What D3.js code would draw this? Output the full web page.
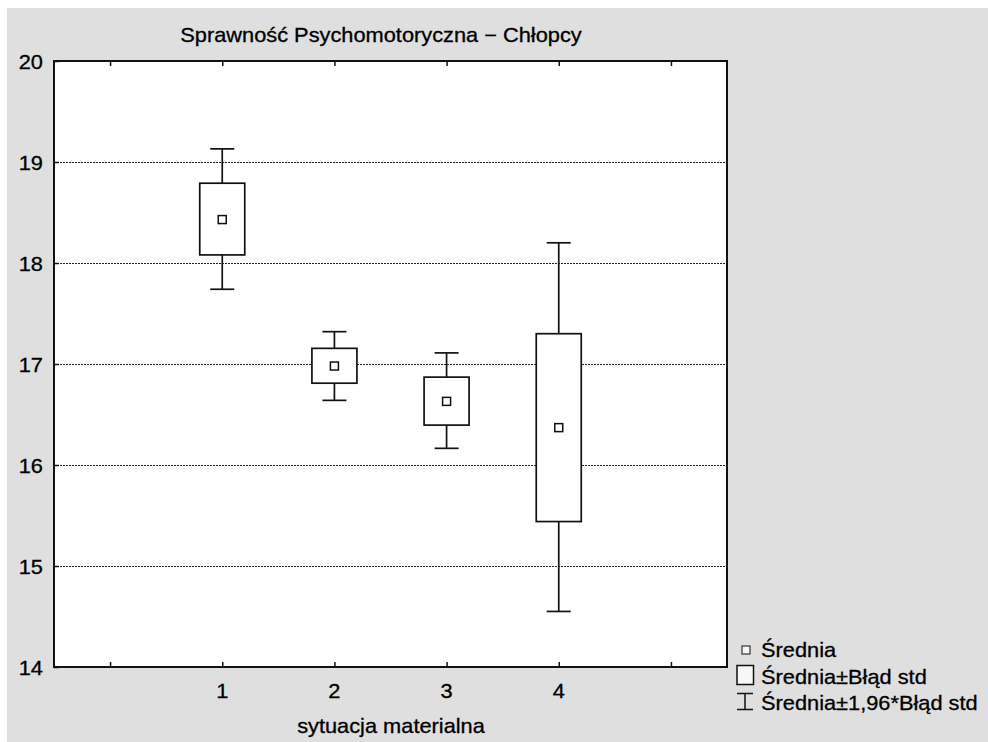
<!DOCTYPE html>
<html>
<head>
<meta charset="utf-8">
<script src="https://cdn.jsdelivr.net/npm/d3@7"></script>
<style>
  html, body { margin: 0; padding: 0; background: #ffffff; }
  svg { display: block; }
  text { font-family: "Liberation Sans", Arial, sans-serif; fill: #000; stroke: #000; stroke-width: 0.3px; }
</style>
</head>
<body>
<div id="chart"></div>
<script>
// ---- data ----
const title = "Sprawność Psychomotoryczna − Chłopcy";
const xTitle = "sytuacja materialna";
const categories = ["1", "2", "3", "4"];
const categoryPos = [1, 2, 3, 4];
const means       = [18.43, 16.98, 16.63, 16.37];
const boxHigh     = [18.79, 17.155, 16.87, 17.30];
const boxLow      = [18.08, 16.81, 16.395, 15.44];
const whiskerHigh = [19.13, 17.32, 17.11, 18.20];
const whiskerLow  = [17.74, 16.64, 16.165, 14.55];
const yTicks = [14, 15, 16, 17, 18, 19, 20];
const xTickPositions = [0, 1, 2, 3, 4, 5];
const legendLabels = ["Średnia", "Średnia±Błąd std", "Średnia±1,96*Błąd std"];

// ---- layout ----
const W = 988, H = 742;
const plot = { left: 54, right: 727, top: 61, bottom: 667 };
const fontSize = 20, stretch = 1.09;

const svg = d3.select("#chart").append("svg").attr("width", W).attr("height", H);

svg.append("rect").attr("x", 7).attr("y", 8).attr("width", W - 7).attr("height", H - 8)
  .attr("fill", "#dfdfdf");

const x = d3.scaleLinear().domain([-0.5, 5.5]).range([plot.left, plot.right]);
const y = d3.scaleLinear().domain([14, 20]).range([plot.bottom, plot.top]);

function label(g, tx, ty, str, anchor) {
  return g.append("g").attr("transform", `translate(${tx},${ty})`)
    .append("text").attr("transform", `scale(${stretch},1)`)
    .attr("text-anchor", anchor || "start")
    .attr("font-size", fontSize).text(str);
}

// plot area
svg.append("rect").attr("x", plot.left).attr("y", plot.top)
  .attr("width", plot.right - plot.left).attr("height", plot.bottom - plot.top)
  .attr("fill", "#ffffff");

// grid lines
svg.append("g").selectAll("line").data(yTicks.filter(d => d > 14 && d < 20)).join("line")
  .attr("x1", plot.left).attr("x2", plot.right)
  .attr("y1", d => y(d) + 0.5).attr("y2", d => y(d) + 0.5)
  .attr("stroke", "#222").attr("stroke-width", 1).attr("stroke-dasharray", "2,1")
  .attr("shape-rendering", "crispEdges");

// axes using d3 axis (inward ticks)
const yAxis = d3.axisLeft(y).tickValues(yTicks).tickSize(-5).tickFormat("");
svg.append("g").attr("transform", `translate(${plot.left},0)`).call(yAxis)
  .call(g => g.select(".domain").remove())
  .call(g => g.selectAll("line").attr("stroke", "#111").attr("stroke-width", 1.5));

const xAxisB = d3.axisBottom(x).tickValues(xTickPositions).tickSize(-5).tickFormat("");
svg.append("g").attr("transform", `translate(0,${plot.bottom})`).call(xAxisB)
  .call(g => g.select(".domain").remove())
  .call(g => g.selectAll("line").attr("stroke", "#111").attr("stroke-width", 1.5));

const xAxisT = d3.axisTop(x).tickValues(xTickPositions).tickSize(-5).tickFormat("");
svg.append("g").attr("transform", `translate(0,${plot.top})`).call(xAxisT)
  .call(g => g.select(".domain").remove())
  .call(g => g.selectAll("line").attr("stroke", "#111").attr("stroke-width", 1.5));

// y labels
const yl = svg.append("g");
yTicks.forEach(v => label(yl, 43, y(v) + 7.5, String(v), "end"));

// x labels
const xl = svg.append("g");
categories.forEach((c, i) => label(xl, x(categoryPos[i]), 698, c, "middle"));

// titles
label(svg, 381, 41.5, title, "middle");
label(svg, 391, 733, xTitle, "middle");

// boxes
const boxW = 45, capW = 24, meanS = 8;
const data = categories.map((c, i) => ({
  pos: categoryPos[i], mean: means[i], bh: boxHigh[i], bl: boxLow[i],
  wh: whiskerHigh[i], wl: whiskerLow[i]
}));
const bx = svg.append("g").selectAll("g").data(data).join("g");
const strokeC = "#111", sw = 1.7;
bx.append("line").attr("x1", d => x(d.pos)).attr("x2", d => x(d.pos))
  .attr("y1", d => y(d.wh)).attr("y2", d => y(d.bh)).attr("stroke", strokeC).attr("stroke-width", sw);
bx.append("line").attr("x1", d => x(d.pos)).attr("x2", d => x(d.pos))
  .attr("y1", d => y(d.bl)).attr("y2", d => y(d.wl)).attr("stroke", strokeC).attr("stroke-width", sw);
bx.append("line").attr("x1", d => x(d.pos) - capW / 2).attr("x2", d => x(d.pos) + capW / 2)
  .attr("y1", d => y(d.wh)).attr("y2", d => y(d.wh)).attr("stroke", strokeC).attr("stroke-width", sw);
bx.append("line").attr("x1", d => x(d.pos) - capW / 2).attr("x2", d => x(d.pos) + capW / 2)
  .attr("y1", d => y(d.wl)).attr("y2", d => y(d.wl)).attr("stroke", strokeC).attr("stroke-width", sw);
bx.append("rect").attr("x", d => x(d.pos) - boxW / 2).attr("width", boxW)
  .attr("y", d => y(d.bh)).attr("height", d => y(d.bl) - y(d.bh))
  .attr("fill", "#ffffff").attr("stroke", strokeC).attr("stroke-width", sw);
bx.append("rect").attr("x", d => x(d.pos) - meanS / 2).attr("width", meanS)
  .attr("y", d => y(d.mean) - meanS / 2).attr("height", meanS)
  .attr("fill", "#ffffff").attr("stroke", strokeC).attr("stroke-width", 1.5);

// frame
svg.append("rect").attr("x", plot.left).attr("y", plot.top)
  .attr("width", plot.right - plot.left).attr("height", plot.bottom - plot.top)
  .attr("fill", "none").attr("stroke", "#111").attr("stroke-width", 2);

// legend
const lg = svg.append("g");
const baselines = [657, 684, 710];
lg.append("rect").attr("x", 742).attr("y", 646).attr("width", 8).attr("height", 8)
  .attr("fill", "#f4f4f4").attr("stroke", "#333").attr("stroke-width", 1.2);
lg.append("rect").attr("x", 737).attr("y", 665.5).attr("width", 16.5).attr("height", 19)
  .attr("fill", "#f7f7f7").attr("stroke", "#111").attr("stroke-width", 1.5);
lg.append("line").attr("x1", 745).attr("x2", 745).attr("y1", 693.5).attr("y2", 709.5)
  .attr("stroke", "#111").attr("stroke-width", 1.5);
lg.append("line").attr("x1", 737).attr("x2", 753).attr("y1", 693.5).attr("y2", 693.5)
  .attr("stroke", "#111").attr("stroke-width", 1.5);
lg.append("line").attr("x1", 737).attr("x2", 753).attr("y1", 709.5).attr("y2", 709.5)
  .attr("stroke", "#111").attr("stroke-width", 1.5);
legendLabels.forEach((t, i) => label(lg, 761, baselines[i], t, "start"));
</script>
</body>
</html>
